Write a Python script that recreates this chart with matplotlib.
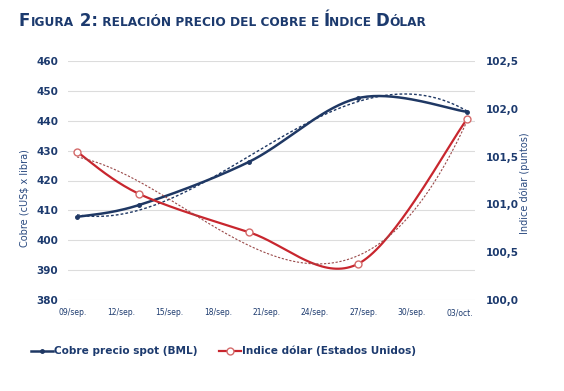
import numpy as np
import matplotlib
matplotlib.use("Agg")
import matplotlib.pyplot as plt
from matplotlib.lines import Line2D

# ---- data ----
x_days = [0.25, 4.1, 10.9, 17.7, 24.43]          # day offsets from 09/sep
cobre = [407.8, 411.8, 426.2, 447.6, 443.0]       # cUS$ x libra
dolar = [101.55, 101.11, 100.71, 100.38, 101.89]  # puntos
tick_days = [0, 3, 6, 9, 12, 15, 18, 21, 24]
tick_labels = ["09/sep.", "12/sep.", "15/sep.", "18/sep.", "21/sep.",
               "24/sep.", "27/sep.", "30/sep.", "03/oct."]
left_ticks = [380, 390, 400, 410, 420, 430, 440, 450, 460]
right_ticks = [100.0, 100.5, 101.0, 101.5, 102.0, 102.5]

NAVY = "#1c3a6e"
BLUE = "#1f3864"
RED = "#c8262e"


def smooth(x, y, n=40):
    p = np.column_stack([x, y]).astype(float)
    out = []
    for i in range(len(p) - 1):
        p0 = p[i - 1] if i > 0 else p[i]
        p1, p2 = p[i], p[i + 1]
        p3 = p[i + 2] if i + 2 < len(p) else p[i + 1]
        c1 = p1 + (p2 - p0) / 6.0
        c2 = p2 - (p3 - p1) / 6.0
        t = np.linspace(0, 1, n)[:, None]
        seg = ((1 - t) ** 3) * p1 + 3 * ((1 - t) ** 2) * t * c1 + 3 * (1 - t) * t ** 2 * c2 + t ** 3 * p2
        out.append(seg if i == 0 else seg[1:])
    s = np.vstack(out)
    return s[:, 0], s[:, 1]


fig = plt.figure(figsize=(5.64, 3.91), dpi=100)
ax = fig.add_axes([68 / 564, 1 - 300 / 391, (475 - 68) / 564, (300 - 61) / 391])
ax2 = ax.twinx()

# grid
for v in left_ticks:
    ax.axhline(v, color="#dcdcdc", lw=0.8, zorder=0)

# copper
sx, sy = smooth(x_days, cobre)
ax.plot(sx, sy, color=BLUE, lw=1.8, zorder=3)
ax.plot(x_days, cobre, ls="none", marker="o", ms=2.5, color=BLUE, zorder=4)
xt = np.linspace(x_days[0], x_days[-1], 200)
cb = np.polyfit(x_days, cobre, 3)
ax.plot(xt, np.polyval(cb, xt), color=BLUE, lw=1.0, dashes=(2, 1.5), zorder=4)

# dollar index
sx2, sy2 = smooth(x_days, dolar)
ax2.plot(sx2, sy2, color=RED, lw=1.6, zorder=3)
ax2.plot(x_days, dolar, ls="none", marker="o", ms=5, mfc="white", mec="#d46a6a", mew=1.0, zorder=5)
cd = np.polyfit(x_days, dolar, 3)
ax2.plot(xt, np.polyval(cd, xt), color="#9a4a4a", lw=0.8, dashes=(2, 1.5), zorder=4)

ax.set_xlim(-0.31, 24.93)
ax.set_ylim(380, 460)
ax2.set_ylim(100.0, 102.5)
ax.set_xticks(tick_days)
ax.set_xticklabels(tick_labels, fontsize=5.5, color=NAVY)
ax.set_yticks(left_ticks)
ax.set_yticklabels([str(v) for v in left_ticks], fontsize=7.5, color=NAVY, fontweight="bold")
ax2.set_yticks(right_ticks)
ax2.set_yticklabels([f"{v:.1f}".replace(".", ",") for v in right_ticks], fontsize=7.5,
                    color=NAVY, fontweight="bold")
ax.tick_params(axis="both", length=0)
ax.tick_params(axis="y", pad=7)
ax.tick_params(axis="x", pad=6)
ax2.tick_params(axis="y", length=0, pad=8)
for a in (ax, ax2):
    for s in a.spines.values():
        s.set_visible(False)

fig.text(25 / 564, 1 - 198 / 391, "Cobre (cUS$ x libra)", rotation=90, ha="center", va="center",
         fontsize=7, color="#2a4a80")
fig.text(525 / 564, 1 - 183 / 391, "Indice dólar (puntos)", rotation=90, ha="center", va="center",
         fontsize=7, color="#2a4a80")

# legend
h1 = Line2D([], [], color=BLUE, lw=1.8, marker="o", ms=2.5)
h2 = Line2D([], [], color=RED, lw=1.6, marker="o", ms=5, mfc="white", mec="#d46a6a")
fig.legend([h1, h2], ["Cobre precio spot (BML)", "Indice dólar (Estados Unidos)"],
           loc="center left", bbox_to_anchor=(27 / 564, 1 - 351 / 391), ncol=2, frameon=False,
           handlelength=2.1, handletextpad=0.1, columnspacing=2.0, borderaxespad=0,
           prop={"size": 7.6, "weight": "bold"}, labelcolor=NAVY)

# small-caps title
pieces = [("F", 12), ("IGURA", 8.7), (" 2:", 12), (" RELACIÓN PRECIO DEL COBRE E ", 8.7),
          ("Í", 12), ("NDICE ", 8.7), ("D", 12), ("ÓLAR", 8.7)]
fig.canvas.draw()
r = fig.canvas.get_renderer()
xpix = 19
ybase = 1 - 26 / 391
for txt, sz in pieces:
    t = fig.text(xpix / 564, ybase, txt, fontsize=sz, fontweight="bold", color=NAVY,
                 va="baseline", ha="left")
    bb = t.get_window_extent(renderer=r)
    xpix += bb.width

fig.savefig("out.png", dpi=100)
